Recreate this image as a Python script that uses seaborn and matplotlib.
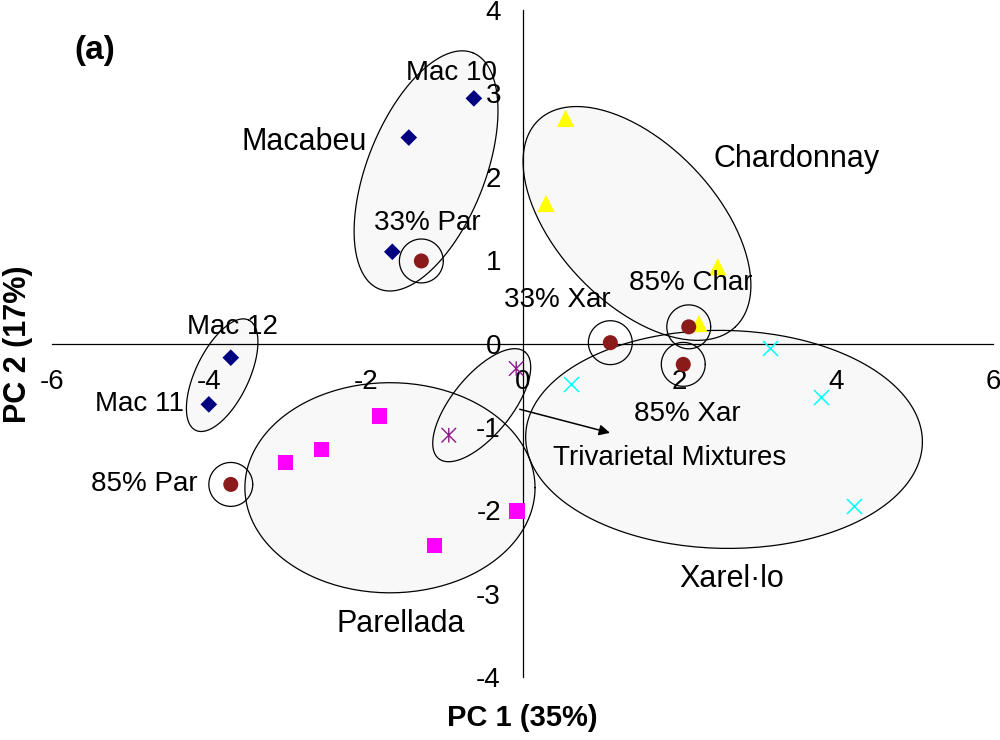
import numpy as np
import pandas as pd
import matplotlib
matplotlib.use('Agg')
import matplotlib.pyplot as plt
import seaborn as sns
from matplotlib.path import Path
from matplotlib.markers import MarkerStyle

# PCA scores
mac_x = [-0.62, -1.45, -1.66, -3.72, -4.00]
mac_y = [2.94, 2.47, 1.10, -0.17, -0.73]
char_x = [0.55, 0.30, 2.49, 2.25]
char_y = [2.70, 1.68, 0.92, 0.24]
par_x = [-1.82, -2.56, -3.02, -1.12, -0.07]
par_y = [-0.87, -1.27, -1.43, -2.42, -2.01]
xar_x = [0.62, 3.16, 3.81, 4.23]
xar_y = [-0.49, -0.05, -0.64, -1.95]
tri_x = [-0.08, -0.94]
tri_y = [-0.30, -1.10]
mix_names = ['33% Par', '33% Xar', '85% Char', '85% Xar', '85% Par']
mix_x = [-1.29, 1.12, 2.12, 2.05, -3.72]
mix_y = [0.99, 0.01, 0.20, -0.25, -1.69]

x_ticks = [-6, -4, -2, 0, 2, 4, 6]
y_ticks = [-4, -3, -2, -1, 0, 1, 2, 3, 4]

sns.set_style('white')
plt.rcParams['font.family'] = ['Liberation Sans', 'DejaVu Sans']
plt.rcParams['text.color'] = 'black'
plt.rcParams['xtick.color'] = 'black'
plt.rcParams['ytick.color'] = 'black'
plt.rcParams['axes.labelcolor'] = 'black'

fig = plt.figure(figsize=(10, 7.4), dpi=100)
ax = fig.add_axes([0.052, 0.0851, 0.941, 0.9014])
ax.set_xlim(-6, 6)
ax.set_ylim(-4, 4)
ax.set_axisbelow(False)

# spines through the origin
ax.spines['left'].set_position(('data', 0))
ax.spines['bottom'].set_position(('data', 0))
ax.spines['top'].set_visible(False)
ax.spines['right'].set_visible(False)
for s in ['left', 'bottom']:
    ax.spines[s].set_linewidth(0.9)
    ax.spines[s].set_color('black')
    ax.spines[s].set_zorder(2.6)
ax.set_xticks(x_ticks)
ax.set_yticks(y_ticks)
ax.set_xticklabels([str(t) for t in x_ticks])
ax.set_yticklabels([str(t) for t in y_ticks])
ax.tick_params(axis='x', direction='out', length=6, width=0.9, pad=12, labelsize=20, colors='black')
ax.tick_params(axis='y', direction='out', length=6.5, width=0.9, pad=9, labelsize=20, colors='black')

# y scale relative to x scale in pixels, so ellipses look right on screen
fig.canvas.draw()
p0 = ax.transData.transform((0, 0))
p1 = ax.transData.transform((1, 1))
k = (p1[1] - p0[1]) / (p1[0] - p0[0])


def ellipse_pts(cx, cy, a, b, ang):
    t = np.linspace(0, 2 * np.pi, 200)
    th = np.deg2rad(ang)
    ex = cx + a * np.cos(th) * np.cos(t) - b * np.sin(th) * np.sin(t)
    ey = cy + (a * np.sin(th) * np.cos(t) + b * np.cos(th) * np.sin(t)) / k
    return ex, ey


# group ellipses: center, semi axes (x units), angle
ellipses = [
    (-1.23, 2.07, 1.62, 0.75, 68.4),
    (1.46, 1.44, 1.82, 1.01, -46.4),
    (-1.69, -1.73, 1.85, 1.34, 0),
    (2.57, -1.15, 2.53, 1.39, -1),
    (-3.83, -0.38, 0.78, 0.34, 64.3),
    (-0.52, -0.74, 0.875, 0.38, 51),
]
for e in ellipses:
    ex, ey = ellipse_pts(*e)
    ax.fill(ex, ey, color='#f8f8f8', lw=0, zorder=1)
for e in ellipses:
    ex, ey = ellipse_pts(*e)
    ax.plot(ex, ey, color='black', lw=0.9, zorder=1.5)

# circles around the mixtures
for mx, my in zip(mix_x, mix_y):
    ex, ey = ellipse_pts(mx, my, 0.28, 0.28, 0)
    ax.plot(ex, ey, color='black', lw=0.9, zorder=1.6)

# markers
sns.scatterplot(x=mac_x, y=mac_y, marker='D', s=72, color='#000080', edgecolor='none', ax=ax, zorder=3)
sns.scatterplot(x=char_x, y=char_y, marker='^', s=155, color='#FFFF00', edgecolor='none', ax=ax, zorder=3)
sns.scatterplot(x=par_x, y=par_y, marker='s', s=120, color='#FF00FF', edgecolor='none', ax=ax, zorder=3)
sns.scatterplot(x=xar_x, y=xar_y, marker='x', s=117, color='#00FFFF', linewidth=1.1, ax=ax, zorder=3)
ast = Path([(0, -0.5), (0, 0.5), (-0.5, -0.5), (0.5, 0.5), (-0.5, 0.5), (0.5, -0.5)],
           [Path.MOVETO, Path.LINETO, Path.MOVETO, Path.LINETO, Path.MOVETO, Path.LINETO])
sns.scatterplot(x=tri_x, y=tri_y, marker=MarkerStyle(ast, fillstyle='none'), s=110,
                color='#8B1A8B', linewidth=1.0, ax=ax, zorder=3)
sns.scatterplot(x=mix_x, y=mix_y, marker='o', s=117, color='#8B1A1A', edgecolor='none', ax=ax, zorder=3)

# labels
big = 22
small = 20
ax.text(-2.78, 2.42, 'Macabeu', fontsize=big, ha='center', va='center', zorder=4)
ax.text(3.50, 2.21, 'Chardonnay', fontsize=big, ha='center', va='center', zorder=4)
ax.text(-1.55, -3.36, 'Parellada', fontsize=big, ha='center', va='center', zorder=4)
ax.text(2.67, -2.82, 'Xarel·lo', fontsize=big, ha='center', va='center', zorder=4)
ax.text(-0.90, 3.25, 'Mac 10', fontsize=small, ha='center', va='center', zorder=4)
ax.text(-3.70, 0.20, 'Mac 12', fontsize=small, ha='center', va='center', zorder=4)
ax.text(-4.88, -0.72, 'Mac 11', fontsize=small, ha='center', va='center', zorder=4)
mix_lx = [-1.22, 0.44, 2.14, 2.10, -4.82]
mix_ly = [1.45, 0.52, 0.72, -0.84, -1.69]
for name, lx, ly in zip(mix_names, mix_lx, mix_ly):
    ax.text(lx, ly, name, fontsize=small, ha='center', va='center', zorder=4)
ax.text(1.87, -1.37, 'Trivarietal Mixtures', fontsize=small, ha='center', va='center', zorder=4)
ax.annotate('', xy=(1.15, -1.08), xytext=(-0.07, -0.78),
            arrowprops=dict(arrowstyle='-|>', color='black', lw=1.1, mutation_scale=16), zorder=4)

fig.text(0.095, 0.932, '(a)', fontsize=24, fontweight='bold', ha='center', va='center')
fig.text(0.522, 0.030, 'PC 1 (35%)', fontsize=21, fontweight='bold', ha='center', va='center')
fig.text(0.018, 0.535, 'PC 2 (17%)', fontsize=22, fontweight='bold', ha='center', va='center', rotation=90)

fig.savefig('out.png', dpi=100)
